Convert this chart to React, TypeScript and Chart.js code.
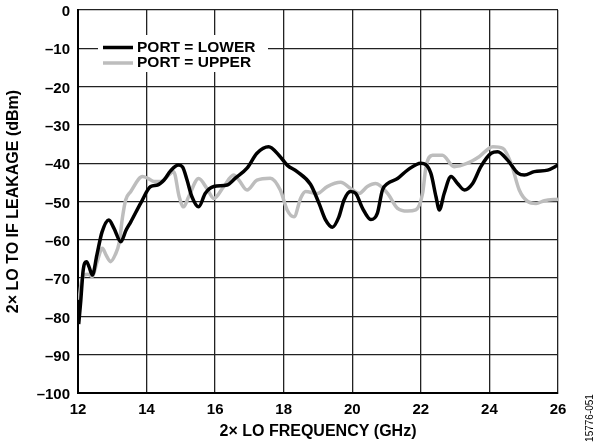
import React, { useEffect, useRef } from "react";
import { Chart, registerables } from "chart.js";

Chart.register(...registerables);

// ---- data ----
const lowerFreq = [
  12.02, 12.08, 12.15, 12.25, 12.32, 12.42, 12.55, 12.7, 12.9, 13.05, 13.25, 13.4, 13.54, 13.83,
  14.12, 14.32, 14.51, 14.7, 14.93, 15.05, 15.18, 15.32, 15.52, 15.71, 15.96, 16.35, 16.59, 16.93,
  17.22, 17.56, 17.86, 18.1, 18.39, 18.78, 19.03, 19.22, 19.42, 19.61, 19.76, 19.95, 20.1, 20.3,
  20.54, 20.73, 20.88, 21.03, 21.32, 21.61, 22.0, 22.29, 22.44, 22.54, 22.68, 22.88, 23.07, 23.27,
  23.51, 23.75, 24.05, 24.24, 24.53, 24.83, 25.02, 25.31, 25.7, 26.0,
];
const lowerLeak = [
  -82, -76, -68, -65.7, -67, -69.2, -64, -58, -54.8, -57, -60.5, -57.5, -55.3, -50.4,
  -46.1, -45.7, -44.4, -42, -40.5, -41, -44.4, -48.7, -51.4, -47.9, -46.1, -45.7, -43.9, -41.3,
  -37.4, -35.7, -37.9, -40.5, -42.2, -45.5, -50.5, -54.8, -56.7, -54, -49.6, -47.4, -47.9, -51.8,
  -54.7, -53.1, -47, -45.3, -44, -41.8, -40, -42.6, -48.7, -52.2, -47.9, -43.5, -45.3, -47,
  -45.3, -40.9, -37.4, -37, -39.2, -42.6, -43.1, -42.2, -41.8, -40.5,
];
const upperFreq = [
  12.03, 12.1, 12.18, 12.3, 12.42, 12.55, 12.71, 12.82, 12.95, 13.08, 13.2, 13.3, 13.39, 13.54,
  13.88, 14.05, 14.22, 14.42, 14.6, 14.79, 14.95, 15.08, 15.23, 15.52, 15.76, 15.96, 16.25, 16.54,
  16.7, 16.93, 17.22, 17.61, 17.9, 18.1, 18.3, 18.5, 18.64, 18.98, 19.27, 19.66, 19.95, 20.2,
  20.44, 20.68, 21.03, 21.32, 21.61, 21.85, 22.05, 22.15, 22.34, 22.63, 22.97, 23.36, 23.7, 24.1,
  24.39, 24.63, 24.87, 25.12, 25.36, 25.6, 26.0,
];
const upperLeak = [
  -75.7, -71, -69.2, -69, -69.6, -66, -62.2, -64, -65.7, -64, -60.8, -54, -49.6, -47.4,
  -43.5, -44, -44.8, -44.8, -43.5, -42.2, -48.7, -51.4, -48.7, -44, -46.6, -49.2, -46.1, -43.1,
  -44.5, -47, -44.4, -43.9, -47, -52.2, -54, -49, -47.4, -47.9, -46.1, -45, -46.6, -47.9,
  -46.1, -45.3, -47.9, -51.8, -52.5, -52.2, -47.9, -40.9, -37.9, -37.9, -40.9, -40, -38.3, -35.7,
  -36.1, -40, -47, -50, -50.5, -49.8, -49.4,
];
const seriesLabels = ["PORT = LOWER", "PORT = UPPER"];
const seriesColors = ["#000000", "#bdbdbd"];
const xTickValues = [12, 14, 16, 18, 20, 22, 24, 26];
const yTickValues = [0, -10, -20, -30, -40, -50, -60, -70, -80, -90, -100];
const xTitle = "2× LO FREQUENCY (GHz)";
const yTitle = "2× LO TO IF LEAKAGE (dBm)";
const figureId = "15776-051";

const FONT = "'Liberation Sans', Arial, sans-serif";

const toPoints = (xs: number[], ys: number[]) => xs.map((x, i) => ({ x, y: ys[i] }));

const insideLegend = {
  id: "insideLegend",
  afterDraw(chart: any) {
    const { ctx, chartArea } = chart;
    const l = chartArea.left;
    const t = chartArea.top;
    ctx.save();
    ctx.fillStyle = "#ffffff";
    ctx.fillRect(l + 20, t + 25, 170, 37);
    ctx.font = `bold 15.5px ${FONT}`;
    ctx.textBaseline = "middle";
    ctx.textAlign = "left";
    const rows = [t + 37.5, t + 53];
    chart.data.datasets.forEach((ds: any, i: number) => {
      const y = rows[i];
      ctx.strokeStyle = ds.borderColor;
      ctx.lineWidth = 3.5;
      ctx.beginPath();
      ctx.moveTo(l + 25, y);
      ctx.lineTo(l + 55, y);
      ctx.stroke();
      ctx.fillStyle = "#000000";
      ctx.fillText(ds.label, l + 59, y);
    });
    // figure id on the right side
    ctx.translate(590, 418);
    ctx.rotate(-Math.PI / 2);
    ctx.font = `10px ${FONT}`;
    ctx.textAlign = "center";
    ctx.fillStyle = "#000000";
    ctx.fillText(figureId, 0, 0);
    ctx.restore();
  },
};

const zeroPad = (s: any) => {
  s.paddingTop = 0;
  s.paddingBottom = 0;
  s.paddingLeft = 0;
  s.paddingRight = 0;
};

export default function App() {
  const ref = useRef<HTMLCanvasElement | null>(null);
  useEffect(() => {
    document.body.style.margin = "0";
    const canvas = ref.current;
    if (!canvas) return;
    const chart = new Chart(canvas, {
      type: "line",
      data: {
        datasets: [
          {
            label: seriesLabels[0],
            data: toPoints(lowerFreq, lowerLeak),
            borderColor: seriesColors[0],
            borderWidth: 3.5,
            pointRadius: 0,
            cubicInterpolationMode: "monotone",
            fill: false,
          },
          {
            label: seriesLabels[1],
            data: toPoints(upperFreq, upperLeak),
            borderColor: seriesColors[1],
            borderWidth: 3.5,
            pointRadius: 0,
            cubicInterpolationMode: "monotone",
            fill: false,
          },
        ],
      },
      options: {
        responsive: false,
        animation: false,
        devicePixelRatio: 1,
        layout: { padding: { left: 0, top: 10, right: 44, bottom: 0 } },
        plugins: { legend: { display: false }, tooltip: { enabled: false } },
        scales: {
          x: {
            type: "linear",
            min: 12,
            max: 26,
            afterBuildTicks: (s: any) => {
              s.ticks = xTickValues.map((v) => ({ value: v }));
            },
            afterFit: (s: any) => {
              s.height = 53;
              zeroPad(s);
            },
            ticks: {
              color: "#000",
              font: { family: FONT, size: 15, weight: "bold" },
              padding: 8,
              maxRotation: 0,
              callback: (v: any) => String(v),
            },
            grid: { color: "#222", lineWidth: 1.3, drawTicks: false },
            border: { display: true, color: "#000", width: 2 },
            title: {
              display: true,
              text: xTitle,
              color: "#000",
              font: { family: FONT, size: 16, weight: "bold" },
              padding: { top: 0, bottom: 5 },
            },
          },
          y: {
            type: "linear",
            min: -100,
            max: 0,
            afterBuildTicks: (s: any) => {
              s.ticks = yTickValues.map((v) => ({ value: v }));
            },
            afterFit: (s: any) => {
              s.width = 78;
              zeroPad(s);
            },
            ticks: {
              color: "#000",
              font: { family: FONT, size: 15, weight: "bold" },
              padding: 8,
              labelOffset: 2,
              callback: (v: any) => String(v).replace("-", "–"),
            },
            grid: { color: "#222", lineWidth: 1.3, drawTicks: false },
            border: { display: true, color: "#000", width: 2 },
            title: {
              display: true,
              text: yTitle,
              color: "#000",
              font: { family: FONT, size: 16, weight: "bold" },
              padding: { top: 4, bottom: 0 },
            },
          },
        },
      },
      plugins: [insideLegend],
    } as any);
    return () => chart.destroy();
  }, []);
  return (
    <div style={{ position: "absolute", left: 0, top: 0, width: 602, height: 446, background: "#fff" }}>
      <canvas ref={ref} width={602} height={446} style={{ display: "block" }} />
    </div>
  );
}
